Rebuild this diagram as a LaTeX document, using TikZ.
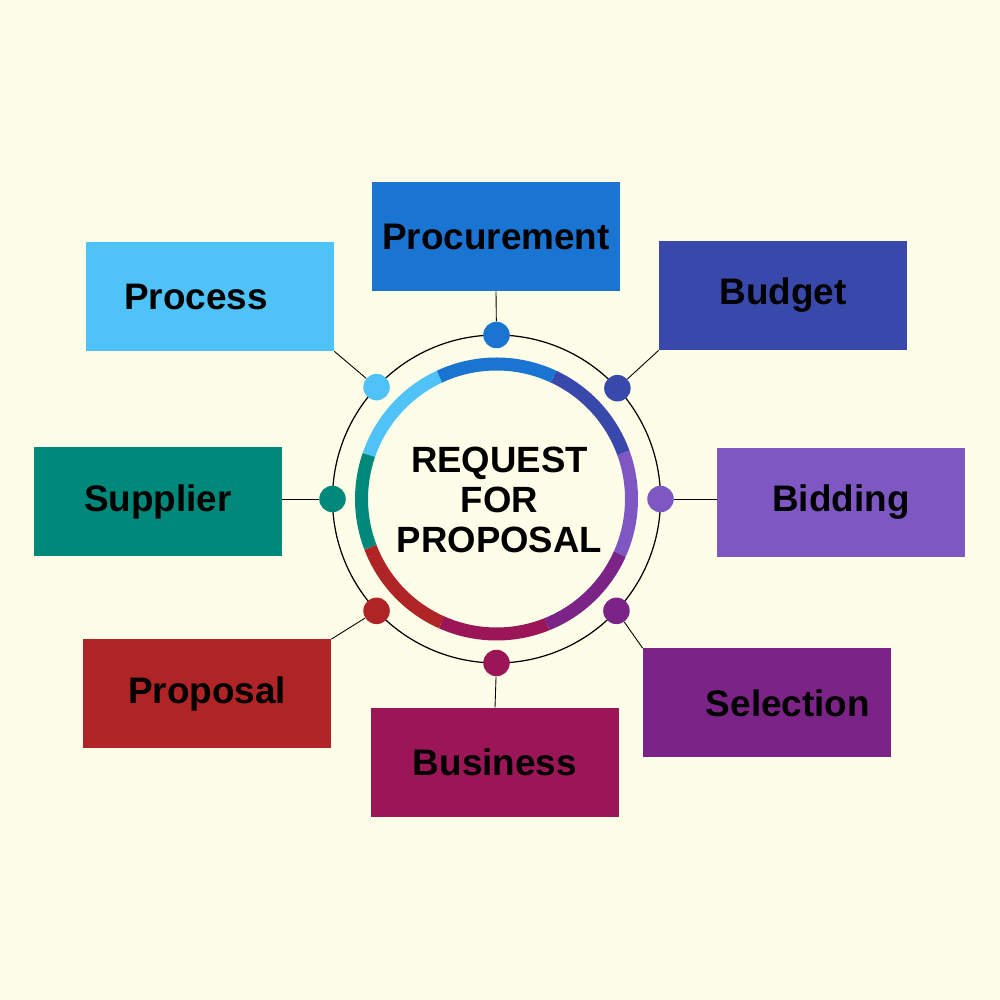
\documentclass[tikz,border=0pt]{standalone}
\usepackage{fontspec}
\setmainfont{Liberation Sans}
\usetikzlibrary{positioning, calc}
\definecolor{bgCol}{HTML}{FDFDE8}
\definecolor{procCol}{HTML}{1A75D2}
\definecolor{processCol}{HTML}{4FC3F7}
\definecolor{budgetCol}{HTML}{3949AB}
\definecolor{biddingCol}{HTML}{7E57C2}
\definecolor{selectCol}{HTML}{7B2386}
\definecolor{businessCol}{HTML}{9A1657}
\definecolor{proposalCol}{HTML}{AF2424}
\definecolor{supplierCol}{HTML}{00897B}

\begin{document}
\begin{tikzpicture}[
    boxnode/.style={minimum width=4.96cm, minimum height=2.18cm, inner sep=0pt, text=black,
        font=\fontsize{21}{25}\selectfont\bfseries},
    boxlabel/.style={inner sep=0pt, text=black, font=\fontsize{21}{25}\selectfont\bfseries},
    dotnode/.style={circle, minimum size=0.53cm, inner sep=0pt},
    arcseg/.style={line width=7.4pt},
    link/.style={line width=0.5pt, draw=black}
]

% --- 0. BACKGROUND ---
\fill[bgCol] (0,0) rectangle (20,20);
\useasboundingbox (0,0) rectangle (20,20);

% --- 1. CENTRAL RING ---
\coordinate (C) at (9.93,10.02);
\draw[line width=0.7pt] (C) circle (3.28);

\draw[arcseg, processCol]  ([shift={(115:2.7)}]C) arc[start angle=115, end angle=161, radius=2.7];
\draw[arcseg, supplierCol] ([shift={(161:2.7)}]C) arc[start angle=161, end angle=201, radius=2.7];
\draw[arcseg, proposalCol] ([shift={(201:2.7)}]C) arc[start angle=201, end angle=246, radius=2.7];
\draw[arcseg, businessCol] ([shift={(246:2.7)}]C) arc[start angle=246, end angle=292, radius=2.7];
\draw[arcseg, selectCol]   ([shift={(292:2.7)}]C) arc[start angle=292, end angle=336, radius=2.7];
\draw[arcseg, biddingCol]  ([shift={(336:2.7)}]C) arc[start angle=336, end angle=380, radius=2.7];
\draw[arcseg, budgetCol]   ([shift={(20:2.7)}]C)  arc[start angle=20, end angle=65, radius=2.7];
\draw[arcseg, procCol]     ([shift={(65:2.7)}]C)  arc[start angle=65, end angle=115, radius=2.7];

\node[align=center, font=\fontsize{20.8}{22.6}\selectfont\bfseries] (title) at (9.99,10.0)
    {REQUEST\\FOR\\PROPOSAL};

% --- 2. DOTS ON THE RING ---
\node[dotnode, fill=procCol]     (dProc)     at ([shift={(90:3.28)}]C)   {};
\node[dotnode, fill=processCol]  (dProcess)  at ([shift={(137:3.28)}]C)  {};
\node[dotnode, fill=budgetCol]   (dBudget)   at ([shift={(42.5:3.28)}]C) {};
\node[dotnode, fill=biddingCol]  (dBidding)  at ([shift={(0:3.28)}]C)    {};
\node[dotnode, fill=selectCol]   (dSelect)   at ([shift={(-43:3.28)}]C)  {};
\node[dotnode, fill=businessCol] (dBusiness) at ([shift={(-90:3.28)}]C)  {};
\node[dotnode, fill=proposalCol] (dProposal) at ([shift={(-137:3.28)}]C) {};
\node[dotnode, fill=supplierCol] (dSupplier) at ([shift={(180:3.28)}]C)  {};

% --- 3. BOXES ---
\node[boxnode, fill=procCol]     (proc)     at (9.92,15.27) {Procurement};
\node[boxnode, fill=processCol,
      label={[boxlabel, xshift=-0.28cm]center:Process}] (process) at (4.20,14.07) {};
\node[boxnode, fill=budgetCol]   (budget)   at (15.66,14.09) {Budget};
\node[boxnode, fill=supplierCol] (supplier) at (3.16,9.97) {Supplier};
\node[boxnode, fill=biddingCol]  (bidding)  at (16.82,9.95) {Bidding};
\node[boxnode, fill=proposalCol] (proposal) at (4.14,6.12) {Proposal};
\node[boxnode, fill=selectCol,
      label={[boxlabel, xshift=0.42cm]center:Selection}] (select) at (15.34,5.94) {};
\node[boxnode, fill=businessCol] (business) at (9.90,4.75) {Business};

% --- 4. CONNECTORS ---
\draw[link] (dProc) -- (proc.south);
\draw[link] (dProcess) -- (process.south east);
\draw[link] (dBudget) -- (budget.south west);
\draw[link] (dSupplier) -- (dSupplier -| supplier.east);
\draw[link] (dBidding) -- (dBidding -| bidding.west);
\draw[link] (dProposal) -- (proposal.north east);
\draw[link] (dSelect) -- (select.north west);
\draw[link] (dBusiness) -- (business.north);

\end{tikzpicture}
\end{document}
